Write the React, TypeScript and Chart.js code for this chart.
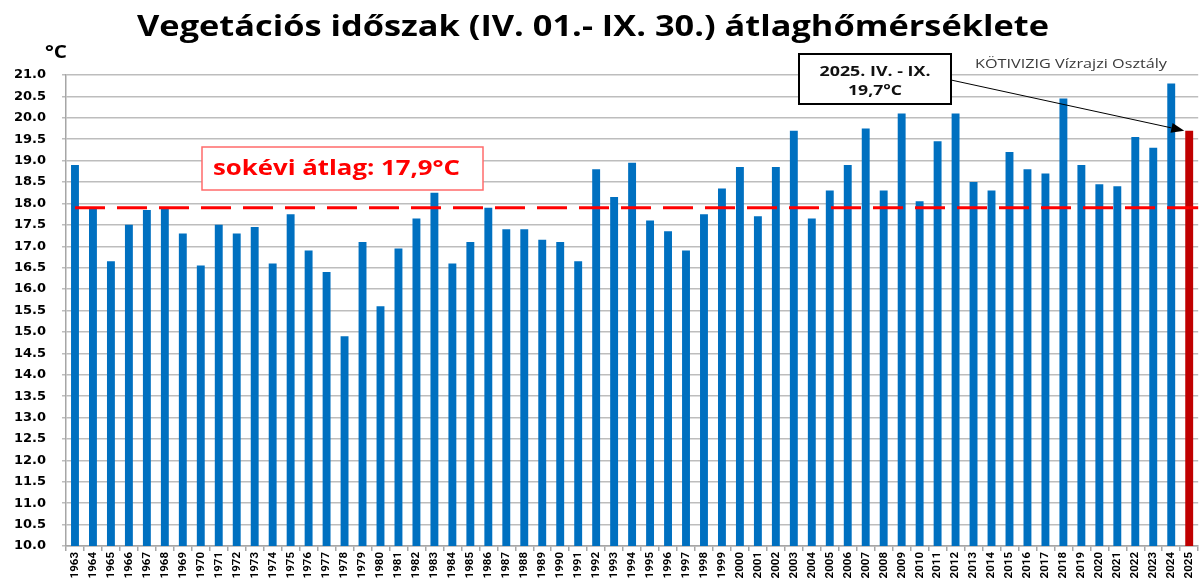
import React, { useEffect, useRef } from "react";
import { Chart, registerables } from "chart.js";

Chart.register(...registerables);

const years: string[] = [
  "1963","1964","1965","1966","1967","1968","1969","1970","1971","1972",
  "1973","1974","1975","1976","1977","1978","1979","1980","1981","1982",
  "1983","1984","1985","1986","1987","1988","1989","1990","1991","1992",
  "1993","1994","1995","1996","1997","1998","1999","2000","2001","2002",
  "2003","2004","2005","2006","2007","2008","2009","2010","2011","2012",
  "2013","2014","2015","2016","2017","2018","2019","2020","2021","2022",
  "2023","2024","2025",
];

const temperatures: number[] = [
  18.9, 17.9, 16.65, 17.5, 17.85, 17.9, 17.3, 16.55, 17.5, 17.3,
  17.45, 16.6, 17.75, 16.9, 16.4, 14.9, 17.1, 15.6, 16.95, 17.65,
  18.25, 16.6, 17.1, 17.9, 17.4, 17.4, 17.15, 17.1, 16.65, 18.8,
  18.15, 18.95, 17.6, 17.35, 16.9, 17.75, 18.35, 18.85, 17.7, 18.85,
  19.7, 17.65, 18.3, 18.9, 19.75, 18.3, 20.1, 18.05, 19.45, 20.1,
  18.5, 18.3, 19.2, 18.8, 18.7, 20.45, 18.9, 18.45, 18.4, 19.55,
  19.3, 20.8, 19.7,
];

const longTermAverage = 17.9;
const yMin = 10;
const yMax = 21;
const yStep = 0.5;

const titleText = "Vegetációs időszak (IV. 01.- IX. 30.) átlaghőmérséklete";
const unitText = "°C";
const sourceText = "KÖTIVIZIG Vízrajzi Osztály";
const currentLabel = "2025. IV. - IX.";

const fmtComma = (v: number) => v.toFixed(1).replace(".", ",") + "°C";

function fitText(
  ctx: CanvasRenderingContext2D,
  text: string,
  x: number,
  y: number,
  width: number,
  align: "left" | "center"
) {
  const w = ctx.measureText(text).width;
  const s = width / w;
  ctx.save();
  ctx.translate(x, y);
  ctx.scale(s, 1);
  ctx.textAlign = "left";
  ctx.textBaseline = "alphabetic";
  ctx.fillText(text, align === "center" ? -w / 2 : 0, 0);
  ctx.restore();
}

const overlayPlugin = {
  id: "overlay",
  afterDatasetsDraw(chart: any) {
    const ctx: CanvasRenderingContext2D = chart.ctx;
    const ys = chart.scales.y;
    const area = chart.chartArea;
    ctx.save();

    // extend the average line to the right edge of the plot
    const meta0 = chart.getDatasetMeta(0);
    const lastPt = meta0.data[meta0.data.length - 1];
    ctx.strokeStyle = "#ff0000";
    ctx.lineWidth = 3;
    ctx.beginPath();
    ctx.moveTo(lastPt.x, ys.getPixelForValue(longTermAverage));
    ctx.lineTo(area.right, ys.getPixelForValue(longTermAverage));
    ctx.stroke();

    // Title
    ctx.fillStyle = "#000000";
    ctx.font = "bold 29px 'Open Sans'";
    fitText(ctx, titleText, 593, 36, 912, "center");

    // unit
    ctx.font = "bold 17px 'Open Sans'";
    fitText(ctx, unitText, 45, 58, 22, "left");

    // source
    ctx.fillStyle = "#3a3a3a";
    ctx.font = "13px 'Open Sans'";
    fitText(ctx, sourceText, 975, 68, 192, "left");

    // long-term average box
    ctx.fillStyle = "#ffffff";
    ctx.fillRect(202, 147, 281, 43);
    ctx.strokeStyle = "#ff6b6b";
    ctx.lineWidth = 1.5;
    ctx.strokeRect(202, 147, 281, 43);
    ctx.fillStyle = "#ff0000";
    ctx.font = "bold 21px 'Open Sans'";
    fitText(ctx, "sokévi átlag: " + fmtComma(longTermAverage), 213, 175, 247, "left");

    // current-year arrow
    const last = temperatures.length - 1;
    const meta = chart.getDatasetMeta(1);
    const bar = meta.data[last];
    const tipX = bar.x - bar.width / 2 - 1;
    const tipY = ys.getPixelForValue(temperatures[last]);
    const sx = 951;
    const sy = 80;
    const ang = Math.atan2(tipY - sy, tipX - sx);
    const headLen = 13;
    const headW = 5;
    const bx = tipX - headLen * Math.cos(ang);
    const by = tipY - headLen * Math.sin(ang);
    ctx.strokeStyle = "#000000";
    ctx.lineWidth = 1;
    ctx.beginPath();
    ctx.moveTo(sx, sy);
    ctx.lineTo(bx, by);
    ctx.stroke();
    ctx.fillStyle = "#000000";
    ctx.beginPath();
    ctx.moveTo(tipX, tipY);
    ctx.lineTo(bx + headW * Math.sin(ang), by - headW * Math.cos(ang));
    ctx.lineTo(bx - headW * Math.sin(ang), by + headW * Math.cos(ang));
    ctx.closePath();
    ctx.fill();

    // current-year box
    ctx.fillStyle = "#ffffff";
    ctx.fillRect(799, 54, 152, 50);
    ctx.strokeStyle = "#000000";
    ctx.lineWidth = 2;
    ctx.strokeRect(799, 54, 152, 50);
    ctx.fillStyle = "#111111";
    ctx.font = "bold 15px 'Open Sans'";
    fitText(ctx, currentLabel, 875, 76, 111, "center");
    fitText(ctx, fmtComma(temperatures[last]), 875, 95, 54, "center");

    ctx.restore();
  },
};

export default function App() {
  const ref = useRef<HTMLCanvasElement | null>(null);

  useEffect(() => {
    if (!ref.current) return;
    const lastIdx = temperatures.length - 1;
    const chart = new Chart(ref.current, {
      type: "bar",
      data: {
        labels: years,
        datasets: [
          {
            type: "line",
            label: "sokévi átlag",
            data: years.map(() => longTermAverage),
            borderColor: "#ff0000",
            borderWidth: 3,
            borderDash: [30, 12],
            pointRadius: 0,
            fill: false,
            order: 0,
          } as any,
          {
            type: "bar",
            label: "átlaghőmérséklet",
            data: temperatures,
            backgroundColor: (c: any) => (c.dataIndex === lastIdx ? "#c00000" : "#0070c0"),
            borderWidth: 0,
            barPercentage: 0.44,
            categoryPercentage: 1,
            order: 1,
          },
        ],
      },
      options: {
        responsive: false,
        animation: false,
        layout: { padding: { top: 75, left: 0, right: 0, bottom: 0 } },
        plugins: {
          legend: { display: false },
          title: { display: false },
          tooltip: { enabled: false },
        },
        scales: {
          x: {
            type: "category",
            offset: true,
            grid: {
              offset: true,
              drawOnChartArea: false,
              drawTicks: true,
              tickLength: 5,
              color: "#a6a6a6",
              lineWidth: 1.5,
            },
            border: { color: "#a6a6a6", width: 1.5 },
            ticks: {
              autoSkip: false,
              minRotation: 90,
              maxRotation: 90,
              padding: 1,
              color: "#000000",
              font: { family: "Roboto", size: 11.5, weight: "bold" },
            },
            afterFit: (s: any) => {
              s.height = 33;
            },
          },
          y: {
            min: yMin,
            max: yMax,
            ticks: {
              stepSize: yStep,
              padding: 16,
              color: "#000000",
              font: { family: "DejaVu Sans", size: 13, weight: "bold" },
              callback: (v: any) => Number(v).toFixed(1),
            },
            grid: {
              color: "#bdbdbd",
              lineWidth: 1.5,
              tickLength: 4,
            },
            border: { color: "#a6a6a6", width: 1.5 },
            afterFit: (s: any) => {
              s.width = 66;
            },
          },
        },
      },
      plugins: [overlayPlugin],
    });
    return () => chart.destroy();
  }, []);

  return (
    <div style={{ position: "fixed", left: 0, top: 0, width: 1204, height: 579, background: "#ffffff" }}>
      <canvas ref={ref} width={1204} height={579} style={{ display: "block" }} />
    </div>
  );
}
